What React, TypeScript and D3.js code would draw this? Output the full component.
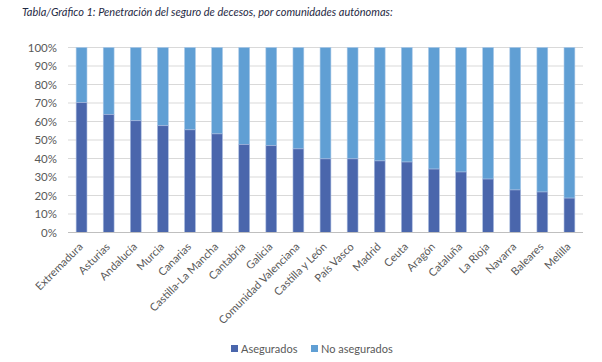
import React from "react";
import * as d3 from "d3";

const regions = [
	"Extremadura",
	"Asturias",
	"Andalucía",
	"Murcia",
	"Canarias",
	"Castilla-La Mancha",
	"Cantabria",
	"Galicia",
	"Comunidad Valenciana",
	"Castilla y León",
	"País Vasco",
	"Madrid",
	"Ceuta",
	"Aragón",
	"Cataluña",
	"La Rioja",
	"Navarra",
	"Baleares",
	"Melilla",
];
// % asegurados; the rest is "No asegurados"
const asegurados = [70.2, 63.8, 60.4, 57.7, 55.5, 53.3, 47.6, 46.9, 45.2, 39.8, 39.8, 38.7, 38.1, 34.3, 32.7, 28.9, 23, 21.9, 18.6];
const yTicks = [0, 10, 20, 30, 40, 50, 60, 70, 80, 90, 100];

const width = 602;
const height = 362;
const margin = { top: 47.5, right: 19, bottom: 130, left: 68 };
const font = "Lato, Carlito, Calibri, sans-serif";
const dark = "#4a66ac";
const light = "#609fd4";

export default function App() {
	const x = d3
		.scaleBand()
		.domain(regions)
		.range([margin.left, width - margin.right])
		.paddingInner(0.6)
		.paddingOuter(0.3);
	const y = d3
		.scaleLinear()
		.domain([0, 100])
		.range([height - margin.bottom + 0.5, margin.top]);

	return (
		<svg
			width={width}
			height={height}
			style={{ position: "absolute", left: 0, top: 0, background: "#fff" }}
			fontFamily={font}
		>
			<text x={22} y={16} fontSize={11} fontStyle="italic" fill="#1f2a44">
				Tabla/Gráfico 1: Penetración del seguro de decesos, por comunidades autónomas:
			</text>
			{yTicks.map((t) => (
				<g key={t}>
					{t > 0 && (
						<line x1={margin.left} x2={width - margin.right} y1={y(t)} y2={y(t)} stroke="#d9d9d9" />
					)}
					<text x={57} y={y(t)} dy="0.35em" textAnchor="end" fontSize={11.5} fill="#595959">
						{t}%
					</text>
				</g>
			))}
			{regions.map((r, i) => {
				const bx = x(r) as number;
				const v = asegurados[i];
				return (
					<g key={r}>
						<rect x={bx} width={x.bandwidth()} y={y(100)} height={y(v) - y(100)} fill={light} stroke="#a9c8e8" strokeWidth={0.6} />
						<rect x={bx} width={x.bandwidth()} y={y(v)} height={y(0) - y(v)} fill={dark} stroke="#a9bbe0" strokeWidth={0.6} />
					</g>
				);
			})}
			<line x1={margin.left} x2={width - margin.right} y1={y(0)} y2={y(0)} stroke="#bfbfbf" />
			{regions.map((r) => {
				const cx = (x(r) as number) + x.bandwidth() / 2 + 2;
				const cy = y(0) + 15;
				return (
					<text
						key={r}
						transform={`translate(${cx},${cy}) rotate(-45)`}
						textAnchor="end"
						fontSize={11}
						fill="#595959"
					>
						{r}
					</text>
				);
			})}
			<g fontSize={11} fill="#595959">
				<rect x={231} y={345} width={7} height={7} fill={dark} />
				<text x={241} y={353}>Asegurados</text>
				<rect x={311} y={345} width={7} height={7} fill={light} />
				<text x={321} y={353}>No asegurados</text>
			</g>
		</svg>
	);
}
